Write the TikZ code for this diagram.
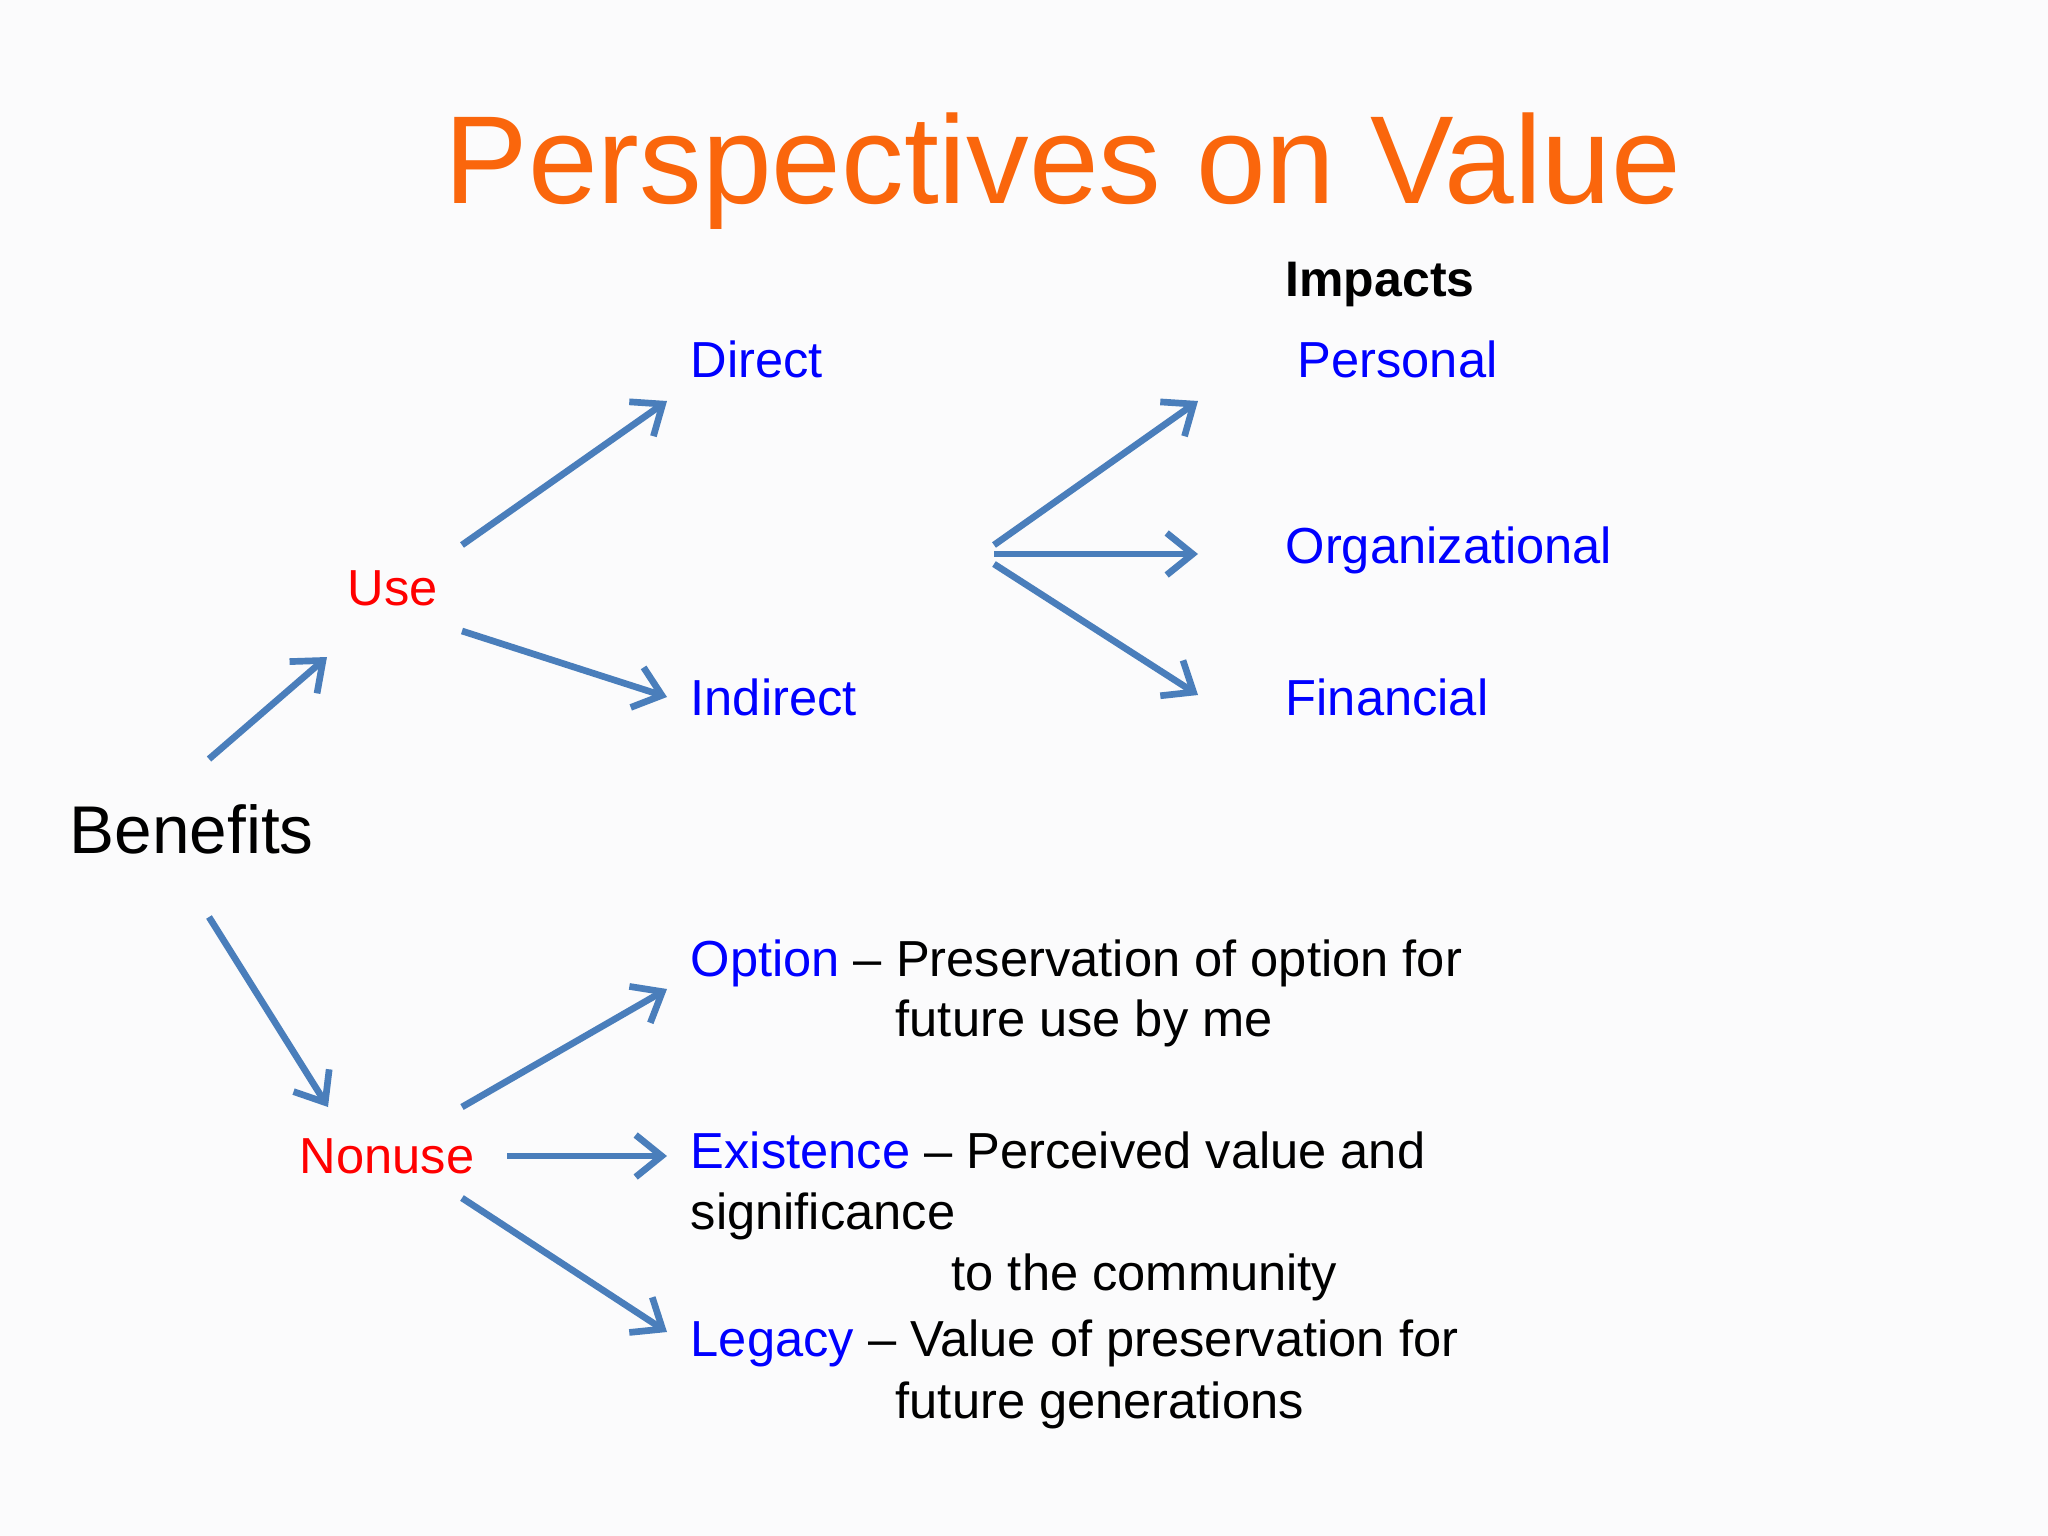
\documentclass[tikz,border=0pt]{standalone}
\usepackage{fontspec}
\setmainfont{Liberation Sans}
\usetikzlibrary{arrows.meta}

\definecolor{titleorange}{RGB}{250,102,12}
\definecolor{arrowblue}{RGB}{74,126,187}
\definecolor{slidebg}{RGB}{251,251,252}

\tikzset{
  txt/.style={anchor=base west, inner sep=0pt, font=\fontsize{14.4}{17}\selectfont},
  kind/.style={txt, text=red},
  sub/.style={txt, text=blue},
  arr/.style={draw=arrowblue, line width=1.9pt, -{Straight Barb[length=2.6mm,width=4.2mm,line width=1.9pt]}}
}

\begin{document}
\begin{tikzpicture}[x=0.01cm,y=-0.01cm]
    \fill[slidebg] (0,0) rectangle (2048,1536);
    \useasboundingbox (0,0) rectangle (2048,1536);

    \node[anchor=base, inner sep=0pt, text=titleorange, font=\fontsize{35.6}{40}\selectfont] (title) at (1063,203) {Perspectives on Value};

    \node[txt, font=\fontsize{14.2}{17}\selectfont\bfseries] (impacts) at (1285,296) {Impacts};
    \node[txt, font=\fontsize{19.2}{22}\selectfont] (benefits) at (69,853) {Benefits};
    \node[kind] (use) at (347,605) {Use};
    \node[kind] (nonuse) at (299,1173) {Nonuse};

    \node[sub] (direct) at (690,377) {Direct};
    \node[sub] (indirect) at (690,715) {Indirect};
    \node[sub] (personal) at (1297,377) {Personal};
    \node[sub] (organizational) at (1285,563) {Organizational};
    \node[sub] (financial) at (1285,715) {Financial};

    \node[txt] (option) at (690,976) {\textcolor{blue}{Option} -- Preservation of option for};
    \node[txt] (option2) at (895,1036) {future use by me};
    \node[txt] (existence) at (690,1168) {\textcolor{blue}{Existence} -- Perceived value and};
    \node[txt] (existence2) at (690,1229) {significance};
    \node[txt] (existence3) at (951,1290) {to the community};
    \node[txt] (legacy) at (690,1356) {\textcolor{blue}{Legacy} -- Value of preservation for};
    \node[txt] (legacy2) at (895,1418) {future generations};

    % arrow ends
    \coordinate (b1) at (209,759);   \coordinate (u0) at (327,657);
    \coordinate (b2) at (209,917);   \coordinate (n0) at (328,1107);
    \coordinate (u1) at (462,545);   \coordinate (d0) at (667,401);
    \coordinate (u2) at (462,631);   \coordinate (i0) at (667,697);
    \coordinate (f1) at (994,545);   \coordinate (p0) at (1198,401);
    \coordinate (f2) at (994,554);   \coordinate (o0) at (1198,554);
    \coordinate (f3) at (994,564);   \coordinate (c0) at (1198,695);
    \coordinate (n1) at (462,1107);  \coordinate (op0) at (667,989);
    \coordinate (n2) at (507,1156);  \coordinate (ex0) at (667,1156);
    \coordinate (n3) at (462,1198);  \coordinate (lg0) at (667,1332);

    \draw[arr] (b1) -- (u0);
    \draw[arr] (b2) -- (n0);
    \draw[arr] (u1) -- (d0);
    \draw[arr] (u2) -- (i0);
    \draw[arr] (f1) -- (p0);
    \draw[arr] (f2) -- (o0);
    \draw[arr] (f3) -- (c0);
    \draw[arr] (n1) -- (op0);
    \draw[arr] (n2) -- (ex0);
    \draw[arr] (n3) -- (lg0);
  \end{tikzpicture}
\end{document}
